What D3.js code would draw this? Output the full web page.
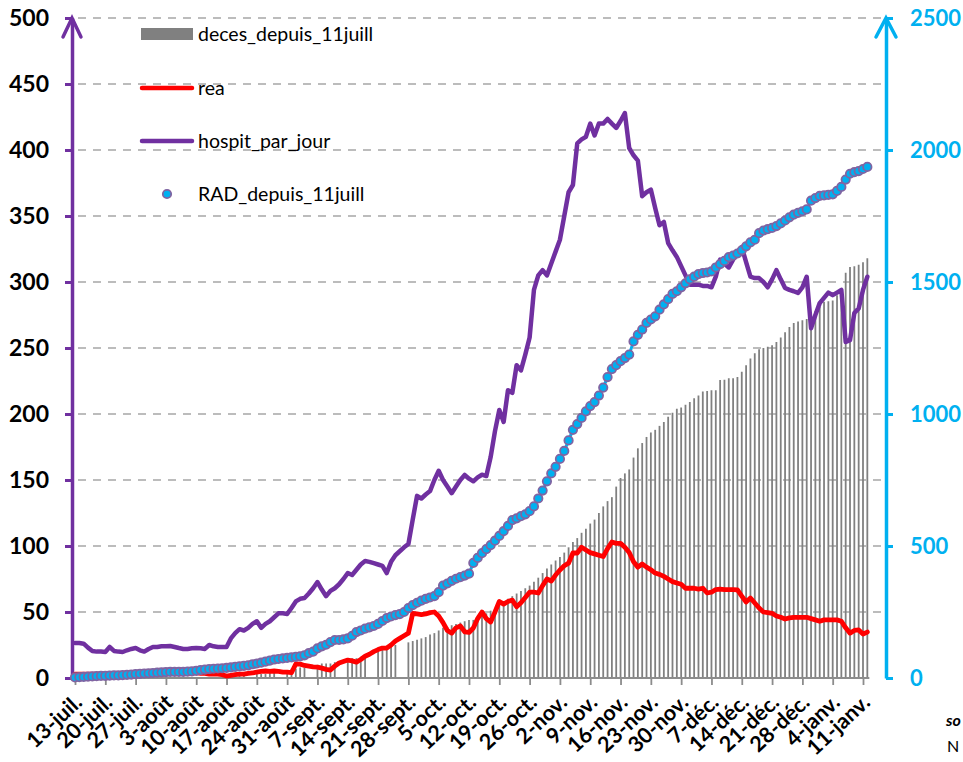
<!DOCTYPE html>
<html><head><meta charset="utf-8">
<script src="https://cdn.jsdelivr.net/npm/d3@7"></script>
<style>
body{margin:0;background:#fff;overflow:hidden}
svg{display:block;font-family:Lato,"Liberation Sans",sans-serif}
</style>
</head><body>
<svg id="chart" width="963" height="762"></svg>
<script>
// ---------- DATA (daily, starting 13 July 2020) ----------
const startDate = new Date(2020, 6, 13);

const hospit = [
26.5,26.5,26,23,20.5,20,20,19.7,23.5,20.5,
20,19.7,21,22,22.7,21,20,22,23.5,23.5,
24,24,24.2,23.5,22.7,22,22,22.5,22.7,22.5,
22,25,24,23.5,23.5,23.5,30,34,37,36,
38,41,43,38,41,43,46,49,49,48.5,
53,58,60,60.6,64,68,72.7,67,62,66,
68,71,75,79.5,78,82,86,88.6,88,87,
86,85,79.5,88,93,96,99,101.5,120,138,
136,139,141.6,150,157,150,145,140,145,150,
153.8,151,149,152,154,153,167.4,187,203,194,
218,216,237,233,245,258,294,305,309,305,
314,323,332,350,368,373.5,405,408,410,420,
411,420,420,423.5,420,416.7,422,428,401.5,396,
392,365,368,370,356,343,345.5,329.5,324,319,
312,305,298,298,298,297,297,296,304,317,
314,311,317,322,326.5,315,304,303,303,300,
296,302,309,302,295.5,294,293,291.7,296,304,
265,275,284,288,292,290,292,294,254.5,256,
276.5,280,294,304];

const rea = [
3,3,3,3,3,3,3,3,3,3,
3,3,3,3,3,3,3,3.5,3.5,3.5,
3.5,4,4,4,4,4,4,4,4,3.5,
3.5,3,3,3,2.5,1.5,2,2.5,3,3,
3.5,3.8,4.5,5,5.3,5,5.3,5,4.5,4.5,
4,10.6,10.5,9.5,9,8.5,8.3,7.5,6.5,6,
9,11.4,12.5,13.6,13,12,14,16.5,18,20,
21.5,22.7,22.7,25,28,30,32,34,49,48.5,
48,48.5,49.5,50,47,42,36,34,38,39.4,
35,34.5,37.9,45,50,45,42.4,50,58,56,
58,59,54,57,61,65,65,64.4,70,75,
73.5,78,81.8,85,87,94.7,94.7,99,97,95,
94,93,92,98,103,102,102,99,95,88,
84,86.4,84,82,79.5,78.5,77,75,73,72,
71,68,68,68,67.4,68,64.4,65,67,67.4,
67,67,67,66.7,62,57.6,60.6,56.8,53,50,
49.5,49,47,46,44.7,45.5,46,46,46,46,
45,44,43,44,44,44,44,43,38,34,
36,36.4,33.3,34.8];

const radDepuis = [
2,3,4,5,6,7,8,8,9,10,
10,11,12,13,15,16,17,18,19,20,
21,22,23,23,23,23,24,25,27,30,
32,34,35,36,37,38,40,42,44,46,
48,52,55,58,62,66,70,72,74,76,
78,80,82,86,94,100,112,120,126,136,
144,144,146,150,160,174,180,187,192,197,
205,216,227,233,238,242,250,265,276,285,
293,300,305,310,325,350,358,368,376,382,
388,395,436,455,473,488,503,520,538,556,
576,598,605,613,620,632,650,680,710,745,
775,800,830,860,900,940,962,985,1010,1030,
1045,1070,1100,1140,1170,1185,1200,1212,1225,1275,
1300,1320,1345,1358,1370,1395,1415,1435,1455,1465,
1480,1495,1510,1520,1530,1534,1536,1540,1555,1568,
1580,1594,1600,1608,1620,1635,1650,1660,1685,1695,
1700,1705,1712,1722,1733,1745,1755,1762,1768,1775,
1808,1818,1826,1828,1830,1832,1845,1860,1888,1910,
1916,1920,1928,1936];

const decesDepuis = [
null,null,null,null,null,null,null,null,null,null,
null,null,null,null,null,null,null,null,null,null,
null,null,null,null,null,null,null,null,null,null,
null,null,null,null,null,null,1,2,2,2,
null,null,3,3,3,4,4,null,null,6,
7,7,8,8,null,null,10,11,11,11,
12,null,null,14,15,15,16,17,null,null,
21,22,23,24,25,null,null,27,28,29,
30,31,33,34,36,38,38.6,40,41,42,
43,44,44,46,48,49,51,53,56,58,
60,62,64,66,68,70,73,76,79.5,83,
86,89,91.7,95,99,103,106,110,113,117,
120,125,130,134,137,145,151.5,155,158,167,
174,178,182.6,186,188,191,194,198,201,204,
205,207,209,212,214,217,217.4,218,218,225.8,
226,227,227,228,232,237,242,246,249,250,
251,252,254.5,258,262,266,269,270,271,272,
273.5,278,281,285,285.5,286,290,294,307,311.4,
312,313,315,318];

const leftTicks = [0,50,100,150,200,250,300,350,400,450,500];
const rightTicks = [0,500,1000,1500,2000,2500];
const xTickLabels = ["13-juil.","20-juil.","27-juil.","3-août","10-août","17-août","24-août","31-août",
  "7-sept.","14-sept.","21-sept.","28-sept.","5-oct.","12-oct.","19-oct.","26-oct.",
  "2-nov.","9-nov.","16-nov.","23-nov.","30-nov.","7-déc.","14-déc.","21-déc.","28-déc.",
  "4-janv.","11-janv."];
const legendLabels = ["deces_depuis_11juill","rea","hospit_par_jour","RAD_depuis_11juill"];
const sourceNote = ["so", "N"];

// ---------- COLOURS ----------
const PURPLE = "#7030A0", CYAN = "#00B0F0", RED = "#FF0000", BARGRAY = "#808080",
      GRID = "#A6A6A6", AXISGRAY = "#8C8C8C", MARKER_STROKE = "#8064A2";
const FONT = "Lato, 'Liberation Sans', sans-serif";

const svg = d3.select("#chart");
const dates = hospit.map((_, i) => d3.timeDay.offset(startDate, i));
const tickDates = xTickLabels.map((_, i) => d3.timeDay.offset(startDate, i * 7));

const x = d3.scaleTime().domain([startDate, tickDates[tickDates.length - 1]]).range([75, 863]);
const yL = d3.scaleLinear().domain([0, 500]).range([678, 18]);
const yR = d3.scaleLinear().domain([0, 2500]).range([678, 18]);
const AXL = 72, AXR = 886;

// grid lines
svg.append("g").selectAll("line").data(leftTicks.filter(d => d > 0)).join("line")
  .attr("x1", AXL + 6).attr("x2", AXR - 2)
  .attr("y1", d => yL(d)).attr("y2", d => yL(d))
  .attr("stroke", GRID).attr("stroke-width", 1.6).attr("stroke-dasharray", "8,7");

// bars (deces)
svg.append("g").selectAll("line").data(decesDepuis.map((v, i) => ({v, d: dates[i]})).filter(o => o.v != null)).join("line")
  .attr("x1", o => x(o.d)).attr("x2", o => x(o.d))
  .attr("y1", yL(0)).attr("y2", o => yL(o.v))
  .attr("stroke", BARGRAY).attr("stroke-width", 1.8);

// x axis
const xAxis = d3.axisBottom(x).tickValues(tickDates)
  .tickFormat((d, i) => xTickLabels[i]).tickSize(7).tickSizeOuter(0);
const gx = svg.append("g").attr("transform", `translate(0,${yL(0)})`).call(xAxis);
gx.select(".domain").attr("stroke", AXISGRAY).attr("stroke-width", 1.8)
  .attr("d", `M${AXL},0H${x(dates[dates.length - 1]) + 2}`);
gx.selectAll(".tick line").attr("stroke", AXISGRAY).attr("stroke-width", 1.8);
gx.selectAll(".tick text")
  .attr("x", 0).attr("y", 0).attr("dy", 0)
  .attr("transform", "translate(8,26) rotate(-43)")
  .attr("text-anchor", "end")
  .attr("fill", "#000").attr("font-size", 21.5).attr("font-weight", 700)
  .attr("font-family", FONT);

// left axis
const leftAxis = d3.axisLeft(yL).tickValues(leftTicks).tickSize(7).tickSizeOuter(0);
const gl = svg.append("g").attr("transform", `translate(${AXL},0)`).call(leftAxis);
gl.select(".domain").attr("stroke", PURPLE).attr("stroke-width", 3.5);
gl.selectAll(".tick line").attr("stroke", PURPLE).attr("stroke-width", 3);
gl.selectAll(".tick text").attr("fill", "#000").attr("font-size", 23).attr("font-weight", 700)
  .attr("font-family", FONT).attr("x", -23);
svg.append("path").attr("d", `M${AXL - 9},37L${AXL},18L${AXL + 9},37`)
  .attr("fill", "none").attr("stroke", PURPLE).attr("stroke-width", 3.5).attr("stroke-linecap", "round");

// right axis
const rightAxis = d3.axisRight(yR).tickValues(rightTicks).tickFormat(d3.format("d")).tickSize(7).tickSizeOuter(0);
const gr = svg.append("g").attr("transform", `translate(${AXR},0)`).call(rightAxis);
gr.select(".domain").attr("stroke", CYAN).attr("stroke-width", 3.5);
gr.selectAll(".tick line").attr("stroke", CYAN).attr("stroke-width", 3);
gr.selectAll(".tick text").attr("fill", CYAN).attr("font-size", 22).attr("font-weight", 700)
  .attr("font-family", FONT).attr("x", 24);
svg.append("path").attr("d", `M${AXR - 10},37L${AXR},18L${AXR + 10},37`)
  .attr("fill", "none").attr("stroke", CYAN).attr("stroke-width", 3.5).attr("stroke-linecap", "round");

// lines
const lineL = d3.line().x((d, i) => x(dates[i])).y(d => yL(d));
const lineR = d3.line().x((d, i) => x(dates[i])).y(d => yR(d));
svg.append("path").datum(rea).attr("d", lineL).attr("fill", "none")
  .attr("stroke", RED).attr("stroke-width", 4.8).attr("stroke-linejoin", "round").attr("stroke-linecap", "round");
svg.append("path").datum(hospit).attr("d", lineL).attr("fill", "none")
  .attr("stroke", PURPLE).attr("stroke-width", 4.5).attr("stroke-linejoin", "round").attr("stroke-linecap", "round");
svg.append("path").datum(radDepuis).attr("d", lineR).attr("fill", "none")
  .attr("stroke", CYAN).attr("stroke-width", 3).attr("stroke-linejoin", "round");
svg.append("g").selectAll("circle").data(radDepuis).join("circle")
  .attr("cx", (d, i) => x(dates[i])).attr("cy", d => yR(d)).attr("r", 4.2)
  .attr("fill", CYAN).attr("stroke", MARKER_STROKE).attr("stroke-width", 1.8);

// legend
const lg = svg.append("g").attr("font-size", 19.5).attr("fill", "#000").attr("font-family", FONT);
const ly = [34, 88, 141, 194];
lg.append("rect").attr("x", 141).attr("y", 28).attr("width", 52).attr("height", 12).attr("fill", BARGRAY);
lg.append("line").attr("x1", 142).attr("x2", 192).attr("y1", ly[1]).attr("y2", ly[1])
  .attr("stroke", RED).attr("stroke-width", 4.5).attr("stroke-linecap", "round");
lg.append("line").attr("x1", 142).attr("x2", 192).attr("y1", ly[2]).attr("y2", ly[2])
  .attr("stroke", PURPLE).attr("stroke-width", 4.5).attr("stroke-linecap", "round");
lg.append("circle").attr("cx", 167).attr("cy", ly[3]).attr("r", 4.2)
  .attr("fill", CYAN).attr("stroke", MARKER_STROKE).attr("stroke-width", 1.8);
lg.selectAll("text").data(legendLabels).join("text")
  .attr("x", 198).attr("y", (d, i) => ly[i]).attr("dy", "0.35em").text(d => d);

// truncated source note at the right edge (only its first letters show in the original)
svg.append("text").attr("x", 946).attr("y", 726).attr("font-size", 16).attr("font-weight", 700)
  .attr("font-style", "italic").attr("font-family", FONT).text(sourceNote[0]);
svg.append("text").attr("x", 947).attr("y", 752).attr("font-size", 16)
  .attr("font-family", FONT).text(sourceNote[1]);
</script>
</body></html>
